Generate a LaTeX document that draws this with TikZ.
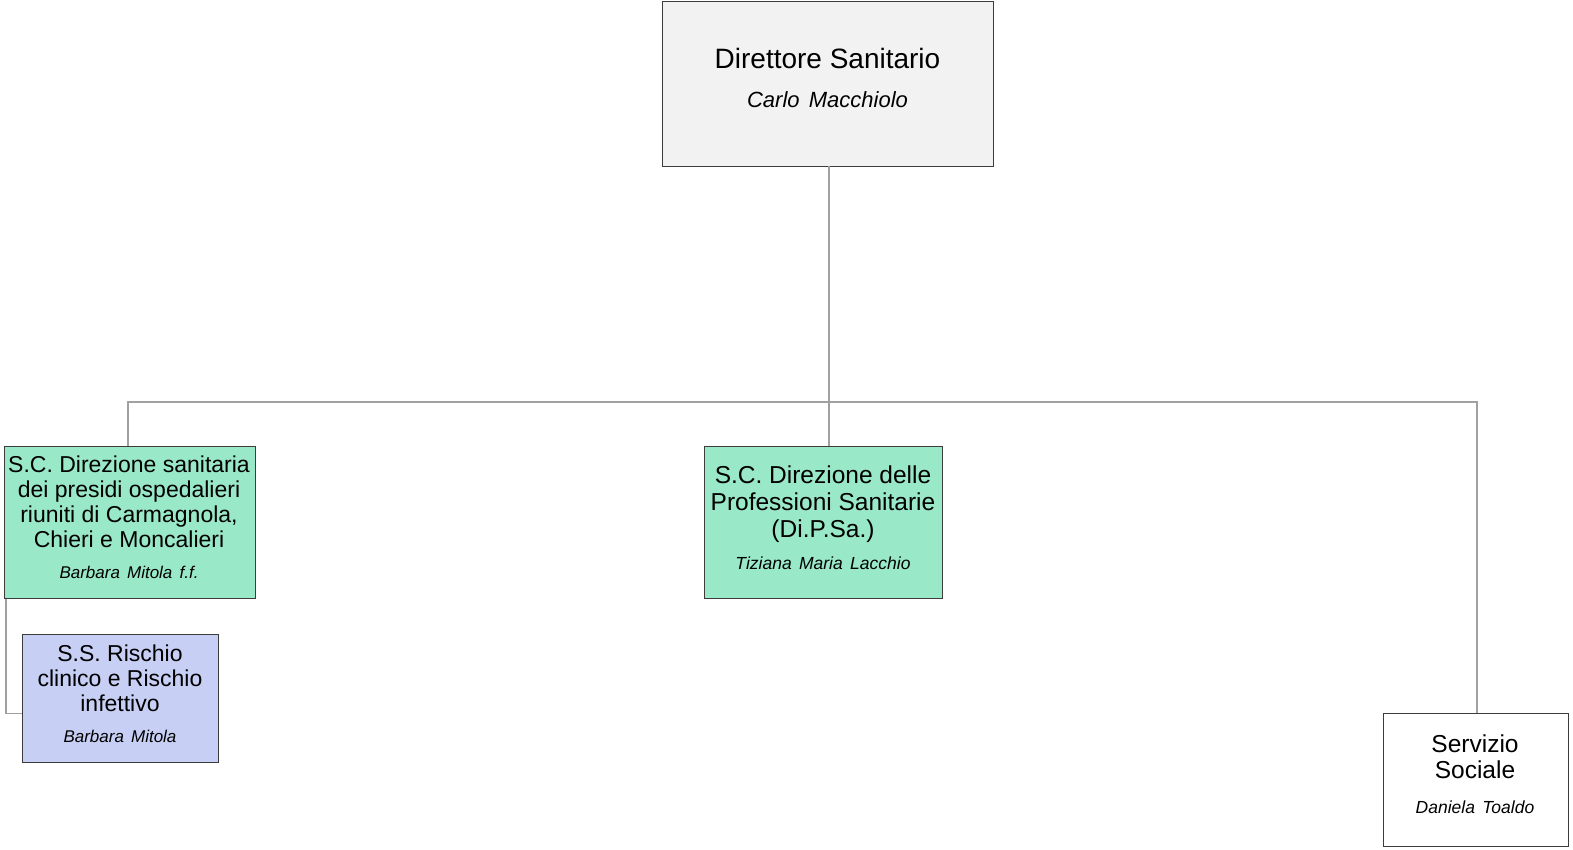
\documentclass[tikz,border=0pt]{standalone}
\usepackage{fontspec}
\setmainfont{Liberation Sans}
\definecolor{dirfill}{RGB}{242,242,242}
\definecolor{scgreen}{RGB}{153,232,200}
\definecolor{ssblue}{RGB}{200,207,245}
\definecolor{boxline}{RGB}{60,60,60}
\definecolor{connline}{RGB}{160,160,160}
\newcommand{\fs}[2]{\fontsize{#1}{#2}\selectfont}
\newcommand{\ws}{\hspace{0.42em}}
\begin{document}
\begin{tikzpicture}[x=1pt,y=-1pt,
  box/.style={draw=boxline, line width=1.2pt, anchor=north west, inner sep=0pt},
  conn/.style={draw=connline, line width=1.3pt},
  ttl/.style={anchor=base, inner sep=0pt, font=\fs{#1}{#1}},
  ttl/.default=23,
  nam/.style={anchor=base, inner sep=0pt, font=\fs{#1}{#1}\itshape},
  nam/.default=17]
\useasboundingbox (0,0) rectangle (1573,849);
% boxes
\node[box, fill=dirfill, minimum width=331pt, minimum height=165pt] (dir) at (662,1) {};
\node[box, fill=scgreen, minimum width=251pt, minimum height=152pt] (sc1) at (4,446) {};
\node[box, fill=scgreen, minimum width=238pt, minimum height=152pt] (dps) at (704,446) {};
\node[box, fill=ssblue, minimum width=196pt, minimum height=128pt] (ss) at (22,634) {};
\node[box, fill=white, minimum width=185pt, minimum height=133pt] (soc) at (1383,713) {};
% texts
\node[ttl=28] (dirT) at (827.5,68) {Direttore Sanitario};
\node[nam=22] (dirN) at (827.5,107) {Carlo\ws{}Macchiolo};
\node[ttl=23] (sc1a) at (129,472) {S.C. Direzione sanitaria};
\node[ttl=23] (sc1b) at (129,497) {dei presidi ospedalieri};
\node[ttl=23] (sc1c) at (129,522) {riuniti di Carmagnola,};
\node[ttl=23] (sc1d) at (129,547) {Chieri e Moncalieri};
\node[nam=17] (sc1N) at (129,578) {Barbara\ws{}Mitola\ws{}f.f.};
\node[ttl=24.5] (dpsa) at (823,483) {S.C. Direzione delle};
\node[ttl=24.5] (dpsb) at (823,510) {Professioni Sanitarie};
\node[ttl=24.5] (dpsc) at (823,537) {(Di.P.Sa.)};
\node[nam=17.5] (dpsN) at (823,569) {Tiziana\ws{}Maria\ws{}Lacchio};
\node[ttl=23] (ssa) at (120,661) {S.S. Rischio};
\node[ttl=23] (ssb) at (120,686) {clinico e Rischio};
\node[ttl=23] (ssc) at (120,711) {infettivo};
\node[nam=17] (ssN) at (120,742) {Barbara\ws{}Mitola};
\node[ttl=24.5] (soca) at (1475,752) {Servizio};
\node[ttl=24.5] (socb) at (1475,778) {Sociale};
\node[nam=17.5] (socN) at (1475,813) {Daniela\ws{}Toaldo};
% connectors
\coordinate (busL) at (128,402);
\coordinate (busR) at (1477,402);
\coordinate (drop) at (829,166);
\draw[conn] (drop) -- (drop |- dps.north);
\draw[conn] (busL |- sc1.north) -- (busL) -- (busR) -- (busR |- soc.north);
\draw[conn] ([xshift=2pt]sc1.south west) |- ([yshift=-15pt]ss.west);
\end{tikzpicture}
\end{document}
